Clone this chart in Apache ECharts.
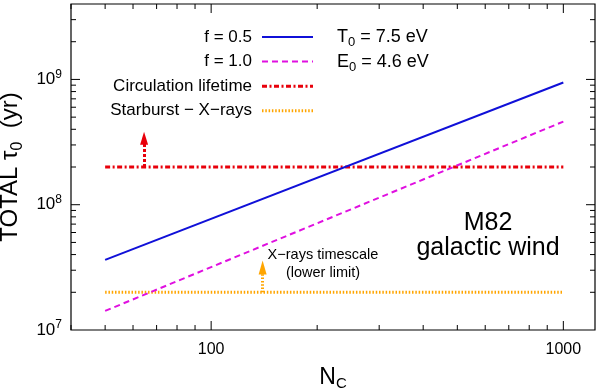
<!DOCTYPE html>
<html>
<head>
<meta charset="utf-8">
<script src="https://cdn.jsdelivr.net/npm/echarts@6/dist/echarts.min.js"></script>
<style>
    html, body { margin: 0; padding: 0; background: #fff; }
    #chart { width: 600px; height: 389px; }
</style>
</head>
<body>
<div id="chart"></div>
<script>
// 数据
const ncRange = [50, 1000];
const tauF05 = [3.63e7, 9.46e8];
const tauF10 = [1.42e7, 4.61e8];
const circulationLifetime = [2e8, 2e8];
const starburstXrays = [2e7, 2e7];
const circArrowNc = 64.5;
const circArrowTau = [2e8, 3.4e8];
const xrayArrowNc = 140;
const xrayArrowTau = [2e7, 3.15e7];

// 刻度
const xTicks = [40, 50, 60, 70, 80, 90, 100, 200, 300, 400, 500, 600, 700, 800, 900, 1000];
const xMajor = [100, 1000];
const yTicks = [2e7, 3e7, 4e7, 5e7, 6e7, 7e7, 8e7, 9e7, 1e8, 2e8, 3e8, 4e8, 5e8, 6e8, 7e8, 8e8, 9e8, 1e9, 2e9, 3e9];
const yMajor = [1e7, 1e8, 1e9];

const X_MIN = 40, X_MAX = 1230;
const Y_MIN = 1e7, Y_MAX = 4e9;
const FONT = '"Liberation Sans", Arial, sans-serif';

const isPow10 = v => Math.abs(Math.log10(v) - Math.round(Math.log10(v))) < 1e-6;
const isMajor = (v, list) => list.some(m => Math.abs(m - v) / m < 1e-6);

// 四边刻度
function tickSeries(values, majors, horizontal) {
    return {
        type: 'custom',
        silent: true,
        z: 5,
        data: values.map(v => horizontal ? [v, Y_MIN] : [X_MIN, v]),
        renderItem: (params, api) => {
            const v = api.value(horizontal ? 0 : 1);
            const len = isMajor(v, majors) ? 9 : 5;
            const style = { stroke: '#000', lineWidth: 1 };
            if (horizontal) {
                const a = api.coord([v, Y_MIN]);
                const b = api.coord([v, Y_MAX]);
                return { type: 'group', children: [
                    { type: 'line', shape: { x1: a[0], y1: a[1], x2: a[0], y2: a[1] - len }, style },
                    { type: 'line', shape: { x1: b[0], y1: b[1], x2: b[0], y2: b[1] + len }, style }
                ] };
            }
            const a = api.coord([X_MIN, v]);
            const b = api.coord([X_MAX, v]);
            return { type: 'group', children: [
                { type: 'line', shape: { x1: a[0], y1: a[1], x2: a[0] + len, y2: a[1] }, style },
                { type: 'line', shape: { x1: b[0], y1: b[1], x2: b[0] - len, y2: b[1] }, style }
            ] };
        }
    };
}

function pairs(xs, ys) {
    return xs.map((x, i) => [x, ys[i]]);
}

const chart = echarts.init(document.getElementById('chart'));

const rich = {
    a: { fontSize: 18, fontFamily: FONT, color: '#000', lineHeight: 22 },
    sub: { fontSize: 13, fontFamily: FONT, color: '#000', padding: [11, 0, 0, 0] }
};

// 图例（右对齐文字 + 线型样本）
const legendRows = [
    { text: 'f = 0.5', color: '#1010d8', width: 2, dash: null },
    { text: 'f = 1.0', color: '#e010e0', width: 2, dash: [6, 4] },
    { text: 'Circulation lifetime', color: '#e8000b', width: 3, dash: [5, 2.5, 2, 2.5] },
    { text: 'Starburst \u2212 X\u2212rays', color: '#ffa500', width: 3, dash: [1.5, 1.8] }
];
const legendGraphics = [];
legendRows.forEach((row, i) => {
    const y = 37 + i * 24.6;
    legendGraphics.push({
        type: 'text', x: 252, y: y,
        style: { text: row.text, font: '17px ' + FONT, fill: '#000', textAlign: 'right', textVerticalAlign: 'middle' }
    });
    legendGraphics.push({
        type: 'line', shape: { x1: 262, y1: y, x2: 313, y2: y },
        style: { stroke: row.color, lineWidth: row.width, lineDash: row.dash }
    });
});

const option = {
    animation: false,
    grid: {
        left: 71, right: 5, top: 4, bottom: 59,
        outerBoundsMode: 'none',
        containLabel: false,
        show: true, borderColor: '#000', borderWidth: 1.2, backgroundColor: 'transparent'
    },
    xAxis: {
        type: 'log', logBase: 10, min: X_MIN, max: X_MAX,
        axisLine: { show: false },
        axisTick: { show: false },
        splitLine: { show: false },
        axisLabel: {
            color: '#000', fontSize: 16, fontFamily: FONT, margin: 12,
            formatter: v => (isPow10(v) && v >= 100) ? String(Math.round(v)) : ''
        },
        name: '{a|N}{sub|C}',
        nameLocation: 'middle',
        nameGap: 34,
        nameTextStyle: {
            rich: {
                a: { fontSize: 23, fontFamily: FONT, color: '#000' },
                sub: { fontSize: 15, fontFamily: FONT, color: '#000', padding: [12, 0, 0, 0] }
            }
        }
    },
    yAxis: {
        type: 'log', logBase: 10, min: Y_MIN, max: Y_MAX,
        axisLine: { show: false },
        axisTick: { show: false },
        splitLine: { show: false },
        axisLabel: {
            margin: 9,
            formatter: v => (isPow10(v) && v < 2e9) ? '{b|10}{s|' + Math.round(Math.log10(v)) + '}' : '',
            rich: {
                b: { fontSize: 17, fontFamily: FONT, color: '#000', lineHeight: 20 },
                s: { fontSize: 12, fontFamily: FONT, color: '#000', padding: [0, 0, 10, 0] }
            }
        },
        name: '{a|TOTAL \u03c4}{sub|0}{a|  (yr)}',
        nameLocation: 'middle',
        nameGap: 44,
        nameRotate: 90,
        nameTextStyle: {
            rich: {
                a: { fontSize: 24, fontFamily: FONT, color: '#000' },
                sub: { fontSize: 16, fontFamily: FONT, color: '#000', padding: [14, 0, 0, 0] }
            }
        }
    },
    graphic: [
        ...legendGraphics,
        {
            type: 'text', x: 337, y: 37,
            style: { text: '{a|T}{sub|0}{a| = 7.5 eV}', rich, textVerticalAlign: 'middle' }
        },
        {
            type: 'text', x: 337, y: 61.6,
            style: { text: '{a|E}{sub|0}{a| = 4.6 eV}', rich, textVerticalAlign: 'middle' }
        },
        {
            type: 'text', x: 488, y: 223,
            style: { text: 'M82', font: '25px ' + FONT, fill: '#000', textAlign: 'center', textVerticalAlign: 'middle' }
        },
        {
            type: 'text', x: 488, y: 248,
            style: { text: 'galactic wind', font: '25px ' + FONT, fill: '#000', textAlign: 'center', textVerticalAlign: 'middle' }
        },
        {
            type: 'text', x: 323, y: 255,
            style: { text: 'X\u2212rays timescale', font: '14.5px ' + FONT, fill: '#000', textAlign: 'center', textVerticalAlign: 'middle' }
        },
        {
            type: 'text', x: 323, y: 273,
            style: { text: '(lower limit)', font: '14.5px ' + FONT, fill: '#000', textAlign: 'center', textVerticalAlign: 'middle' }
        }
    ],
    series: [
        tickSeries(xTicks, xMajor, true),
        tickSeries(yTicks, yMajor, false),
        {
            name: 'Starburst - X-rays',
            type: 'line', symbol: 'none', silent: true,
            data: pairs(ncRange, starburstXrays),
            lineStyle: { color: '#ffa500', width: 3, type: [1.5, 1.8] },
            markLine: {
                silent: true, symbol: ['none', 'triangle'], symbolSize: [8, 14],
                label: { show: false },
                lineStyle: { color: '#ffa500', width: 3, type: [1.5, 1.8] },
                data: [[{ coord: [xrayArrowNc, xrayArrowTau[0]] }, { coord: [xrayArrowNc, xrayArrowTau[1]] }]]
            }
        },
        {
            name: 'Circulation lifetime',
            type: 'line', symbol: 'none', silent: true,
            data: pairs(ncRange, circulationLifetime),
            lineStyle: { color: '#e8000b', width: 3, type: [5, 2.5, 2, 2.5] },
            markLine: {
                silent: true, symbol: ['none', 'triangle'], symbolSize: [8, 13],
                label: { show: false },
                lineStyle: { color: '#e8000b', width: 3, type: [3, 2] },
                data: [[{ coord: [circArrowNc, circArrowTau[0]] }, { coord: [circArrowNc, circArrowTau[1]] }]]
            }
        },
        {
            name: 'f = 1.0',
            type: 'line', symbol: 'none', silent: true,
            data: pairs(ncRange, tauF10),
            lineStyle: { color: '#e010e0', width: 2, type: [6, 4] }
        },
        {
            name: 'f = 0.5',
            type: 'line', symbol: 'none', silent: true,
            data: pairs(ncRange, tauF05),
            lineStyle: { color: '#1010d8', width: 2 }
        }
    ]
};

chart.setOption(option);
window.addEventListener('resize', () => chart.resize());
</script>
</body>
</html>
